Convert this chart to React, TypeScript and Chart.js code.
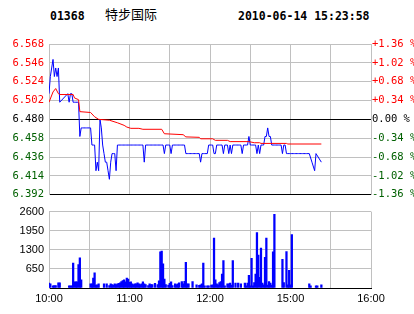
import React, { useEffect, useRef } from "react";
import { Chart, registerables } from "chart.js";
Chart.register(...registerables);

const stockCode = "01368";
const stockName = "特步国际";
const stamp = "2010-06-14 15:23:58";
const prevClose = 6.48;

const priceTicks = [6.392, 6.414, 6.436, 6.458, 6.48, 6.502, 6.524, 6.546, 6.568];
const priceTickLabels = ["6.392", "6.414", "6.436", "6.458", "6.480", "6.502", "6.524", "6.546", "6.568"];
const pctTickLabels = ["-1.36 %", "-1.02 %", "-0.68 %", "-0.34 %", "0.00 %", "+0.34 %", "+0.68 %", "+1.02 %", "+1.36 %"];
const timeTicks = [0, 30, 60, 90, 120, 150, 180, 210, 240];
const timeTickLabels = ["10:00", "", "11:00", "", "12:00", "", "15:00", "", "16:00"];
const volTicks = [0, 650, 1300, 1950, 2600];
const volTickLabels = ["", "650", "1300", "1950", "2600"];

// per-minute price from 10:00 (index = trading minute)
const price = [
  6.51, 6.53, 6.54, 6.55, 6.53, 6.54, 6.53, 6.54, 6.50, null,
  null, null, null, null, 6.51, 6.50, 6.51, 6.51, 6.50, 6.50,
  6.50, 6.50, 6.50, 6.46, 6.47, 6.47, 6.47, 6.47, 6.47, 6.47,
  6.47, 6.47, 6.45, 6.45, 6.45, 6.42, 6.43, 6.42, 6.48, 6.47,
  6.45, 6.44, 6.43, 6.43, 6.42, 6.41, 6.43, 6.44, 6.44, 6.44,
  6.42, 6.45, 6.45, 6.45, 6.45, 6.45, 6.45, 6.45, 6.45, 6.45,
  6.45, 6.45, 6.45, 6.45, 6.45, 6.45, 6.45, 6.45, 6.45, 6.45,
  6.45, 6.43, 6.45, 6.45, 6.45, 6.45, 6.45, 6.45, 6.45, 6.45,
  6.45, 6.45, 6.45, 6.45, 6.45, 6.45, 6.44, 6.45, 6.45, 6.45,
  6.45, 6.44, 6.45, 6.45, 6.45, 6.45, 6.45, 6.45, 6.45, 6.45,
  6.45, 6.45, 6.44, 6.44, 6.44, 6.44, 6.44, 6.44, 6.44, 6.44,
  6.44, 6.44, 6.44, 6.43, 6.44, 6.44, 6.44, 6.44, 6.44, 6.45,
  6.45, 6.45, 6.45, 6.44, 6.44, 6.45, 6.45, 6.45, 6.45, 6.45,
  6.44, 6.45, 6.45, 6.45, 6.44, 6.45, 6.44, 6.45, 6.45, 6.45,
  6.45, 6.45, 6.45, 6.45, 6.44, 6.45, 6.45, 6.45, 6.45, 6.46,
  6.45, 6.45, 6.45, 6.45, 6.45, 6.44, 6.45, 6.44, 6.45, 6.45,
  6.45, 6.46, 6.46, 6.47, 6.46, 6.46, 6.45, 6.45, 6.45, 6.45,
  6.45, 6.45, 6.45, 6.45, 6.44, 6.45, 6.45, 6.44, 6.44, 6.44,
  6.44, 6.44, 6.44, 6.44, 6.44, 6.44, 6.44, 6.44, 6.44, 6.44,
  6.44, 6.44, 6.44, 6.44, 6.44, null, 6.43, null, 6.42, 6.44,
  null, null, null, 6.43,
];

const avgMinutes = [0, 3, 5, 7, 8, 18, 19, 22, 23, 31, 34, 37, 45, 51, 56, 58, 61, 67, 70, 84, 86, 100, 102, 112, 113, 122, 124, 133, 135, 149, 153, 157, 158, 177, 178, 203];
const avgPrice = [6.5, 6.512, 6.516, 6.51, 6.509, 6.509, 6.505, 6.503, 6.489, 6.488, 6.483, 6.48, 6.479, 6.476, 6.473, 6.471, 6.4695, 6.4695, 6.4684, 6.4684, 6.4632, 6.4621, 6.4595, 6.459, 6.4573, 6.4573, 6.4555, 6.4555, 6.454, 6.454, 6.4527, 6.4527, 6.4519, 6.4519, 6.4512, 6.4512];

const volMinutes = [
  0, 1, 3, 4, 5, 7, 8, 15, 16, 17, 18, 19, 20, 21, 22, 23, 24, 31, 32, 33, 34, 35, 36, 37, 41, 43, 45, 46, 47, 48,
  49, 50, 51, 52, 53, 54, 55, 56, 57, 58, 59, 60, 61, 62, 63, 64, 65, 66, 67, 68, 69, 70, 71, 72, 74, 75, 76, 77, 79, 81,
  82, 83, 84, 85, 86, 87, 89, 90, 91, 92, 94, 95, 96, 97, 99, 100, 101, 102, 103, 104, 107, 110, 112, 113, 114, 115, 116, 118, 119, 121,
  122, 123, 124, 125, 126, 127, 128, 129, 130, 131, 133, 134, 135, 136, 137, 139, 141, 143, 146, 147, 148, 149, 150, 151, 152, 153, 154, 155, 156, 157,
  158, 159, 160, 161, 162, 163, 164, 165, 166, 167, 168, 174, 175, 177, 178, 179, 180, 181, 194, 195, 199, 200, 203,
];
const volumes = [
  165, 143, 77, 80, 80, 175, 175, 70, 70, 70, 845, 210, 210, 210, 800, 1030, 275, 140, 140, 340, 515, 100, 110, 140, 140, 140, 80, 140, 120, 100,
  140, 120, 140, 160, 180, 220, 250, 280, 210, 340, 300, 190, 210, 140, 120, 140, 140, 180, 140, 120, 140, 210, 140, 120, 80, 140, 120, 120, 160, 120,
  240, 1230, 1260, 820, 300, 120, 100, 160, 210, 80, 140, 120, 140, 180, 220, 140, 230, 870, 140, 140, 215, 110, 90, 110, 140, 845, 77, 77, 77, 99,
  110, 1700, 275, 143, 110, 186, 219, 470, 930, 77, 143, 143, 165, 99, 930, 165, 165, 143, 165, 77, 165, 430, 77, 1010, 77, 186, 470, 1890, 1120, 360,
  1360, 165, 110, 1040, 1700, 99, 219, 165, 99, 1230, 2510, 975, 186, 1240, 110, 600, 110, 1820, 143, 77, 77, 77, 110,
];

const GRID = "#c0c0c0";
const RED = "#ff0000";
const GREEN = "#006000";
const monoFont = { family: "'DejaVu Sans Mono', monospace", size: 10.5 };
const sansFont = { family: "'Liberation Sans', Arial, sans-serif", size: 11 };

const isPrev = (v: number) => Math.abs(v - prevClose) < 1e-9;
const labelColor = (v: number) => (isPrev(v) ? "#000000" : v > prevClose ? RED : GREEN);

export default function App() {
  const mainRef = useRef<HTMLCanvasElement | null>(null);
  const volRef = useRef<HTMLCanvasElement | null>(null);

  useEffect(() => {
    const setTicks = (vals: number[]) => (s: any) => {
      s.ticks = vals.map((v) => ({ value: v }));
    };
    const main = new Chart(mainRef.current as HTMLCanvasElement, {
      type: "line",
      data: {
        datasets: [
          {
            label: "avg",
            data: avgMinutes.map((m, i) => ({ x: m, y: avgPrice[i] })),
            borderColor: RED,
            borderWidth: 1,
            pointRadius: 0,
            order: 0,
          },
          {
            label: "price",
            data: price.map((p, i) => ({ x: i, y: p })),
            borderColor: "#0000ff",
            borderWidth: 1,
            pointRadius: 0,
            spanGaps: true,
            order: 1,
          },
        ],
      },
      options: {
        animation: false,
        responsive: false,
        maintainAspectRatio: false,
        layout: { padding: { top: 44, bottom: 3, left: 0, right: 0 } },
        plugins: { legend: { display: false }, tooltip: { enabled: false } },
        elements: { line: { tension: 0 } },
        scales: {
          x: {
            type: "linear",
            min: 0,
            max: 240,
            afterBuildTicks: setTicks(timeTicks),
            ticks: { display: false },
            grid: { color: GRID, drawTicks: false },
            border: { color: "#000000" },
            afterFit: (s: any) => {
              s.height = 0;
            },
          },
          y: {
            position: "left",
            min: 6.392,
            max: 6.568,
            afterBuildTicks: setTicks(priceTicks),
            ticks: {
              callback: (_v: any, i: number) => priceTickLabels[i],
              color: (c: any) => labelColor(c.tick.value),
              font: monoFont,
              padding: 5,
            },
            grid: {
              color: (c: any) => (isPrev(c.tick.value) || c.index === 0 ? "#000000" : GRID),
              drawTicks: false,
            },
            border: { color: GRID },
            afterFit: (s: any) => {
              s.width = 49;
            },
          },
          y2: {
            position: "right",
            min: 6.392,
            max: 6.568,
            afterBuildTicks: setTicks(priceTicks),
            ticks: {
              callback: (_v: any, i: number) => pctTickLabels[i],
              color: (c: any) => labelColor(c.tick.value),
              font: monoFont,
              padding: 1,
            },
            grid: { drawOnChartArea: false, drawTicks: false },
            border: { color: GRID },
            afterFit: (s: any) => {
              s.width = 43;
            },
          },
        },
      },
    } as any);

    const vol = new Chart(volRef.current as HTMLCanvasElement, {
      type: "bar",
      data: {
        datasets: [
          {
            label: "volume",
            data: volMinutes.map((m, i) => ({ x: m, y: volumes[i] })),
            backgroundColor: "#0000ff",
            borderWidth: 0,
            barThickness: 1.6,
          },
        ],
      },
      options: {
        animation: false,
        responsive: false,
        maintainAspectRatio: false,
        layout: { padding: { top: 9, bottom: 0, left: 0, right: 43 } },
        plugins: { legend: { display: false }, tooltip: { enabled: false } },
        scales: {
          x: {
            type: "linear",
            min: 0,
            max: 240,
            offset: false,
            afterBuildTicks: setTicks(timeTicks),
            ticks: {
              callback: (_v: any, i: number) => timeTickLabels[i],
              autoSkip: false,
              maxRotation: 0,
              font: sansFont,
              color: "#000000",
              padding: 4,
            },
            grid: { color: GRID, drawTicks: false, offset: false },
            border: { color: "#000000" },
            afterFit: (s: any) => {
              s.height = 26;
            },
          },
          y: {
            min: 0,
            max: 2600,
            afterBuildTicks: setTicks(volTicks),
            ticks: {
              callback: (_v: any, i: number) => volTickLabels[i],
              font: sansFont,
              color: "#000000",
              padding: 5,
            },
            grid: { color: GRID, drawTicks: false },
            border: { color: GRID },
            afterFit: (s: any) => {
              s.width = 49;
            },
          },
        },
      },
    } as any);

    return () => {
      main.destroy();
      vol.destroy();
    };
  }, []);

  const boldMono: React.CSSProperties = {
    position: "absolute",
    font: "bold 11.5px 'DejaVu Sans Mono', monospace",
    lineHeight: "1",
    color: "#000",
    whiteSpace: "nowrap",
  };

  return (
    <div style={{ position: "fixed", left: 0, top: 0, width: 414, height: 314, background: "#fff", overflow: "hidden" }}>
      <span style={{ ...boldMono, left: 50, top: 11 }}>{stockCode}</span>
      <span
        style={{
          position: "absolute",
          left: 105,
          top: 7,
          font: "13px 'Noto Sans CJK SC', sans-serif",
          lineHeight: "1",
          color: "#000",
          whiteSpace: "nowrap",
        }}
      >
        {stockName}
      </span>
      <span style={{ ...boldMono, left: 238, top: 11 }}>{stamp}</span>
      <canvas ref={mainRef} width={414} height={206} style={{ position: "absolute", left: 0, top: 0 }} />
      <canvas ref={volRef} width={414} height={114} style={{ position: "absolute", left: 0, top: 200 }} />
    </div>
  );
}
